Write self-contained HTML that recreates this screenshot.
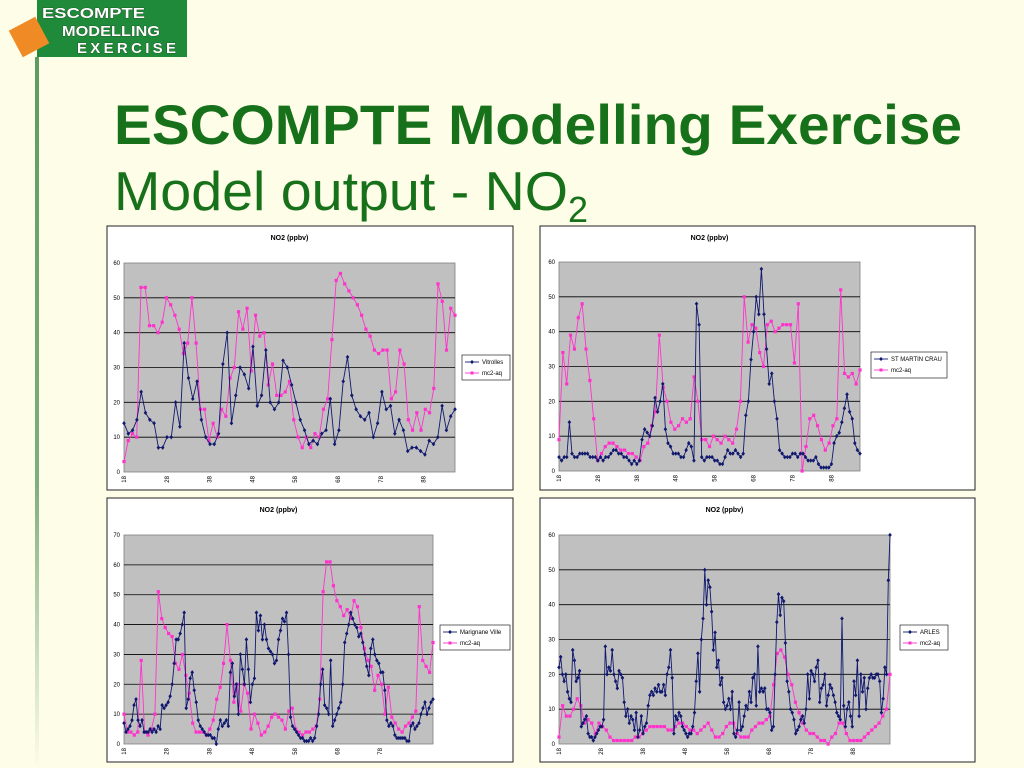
<!DOCTYPE html>
<html><head><meta charset="utf-8">
<style>
html,body{margin:0;padding:0;background:#fefde8;}
#page{position:relative;width:1024px;height:768px;overflow:hidden;background:#fefde8;font-family:"Liberation Sans",sans-serif;}
svg text{font-family:"Liberation Sans",sans-serif;}
</style></head>
<body>
<div id="page">
<svg id="s" width="1024" height="768" viewBox="0 0 1024 768">
<defs>
<linearGradient id="vl" x1="0" y1="0" x2="0" y2="1">
<stop offset="0" stop-color="#5f9a5f"/><stop offset="0.6" stop-color="#7fae7f"/><stop offset="1" stop-color="#fefde8"/>
</linearGradient>
</defs>
<rect x="35" y="57" width="4" height="711" fill="url(#vl)"/>
<g>
<rect x="37" y="0" width="150" height="57" fill="#1f8a3a"/>
<rect x="14" y="22" width="30" height="30" fill="#f08a24" transform="rotate(-28 29 37)"/>
<g font-weight="bold" font-size="15" fill="#fff" style="paint-order:stroke" stroke="#1a3a1a" stroke-width="0.6">
<text x="42" y="18" textLength="103" lengthAdjust="spacingAndGlyphs">ESCOMPTE</text>
<text x="62" y="36" textLength="98" lengthAdjust="spacingAndGlyphs">MODELLING</text>
<text x="77" y="53" textLength="99" lengthAdjust="spacing">EXERCISE</text>
</g>
</g>
<text x="114" y="144" font-size="56" font-weight="bold" fill="#17711a" textLength="848" lengthAdjust="spacingAndGlyphs">ESCOMPTE Modelling Exercise</text>
<text x="114" y="210" font-size="55" fill="#17711a"><tspan textLength="454" lengthAdjust="spacingAndGlyphs">Model output - NO</tspan><tspan font-size="36" dy="12">2</tspan></text>
<g id="charts"></g>
</svg>
</div>
<script>
// Chart 1 - Vitrolles
const c1Blue=[14,11,12,15,23,17,15,14,7,7,10,10,20,13,37,27,21,26,15,10,8,8,11,31,40,14,22,30,28,24,36,19,22,35,20,18,20,32,30,25,20,15,12,8,9,8,11,12,21,8,12,26,33,22,18,16,15,17,10,14,23,18,19,11,15,12,6,7,7,6,5,9,8,10,19,12,16,18];
const c1Pink=[3,9,11,10,53,53,42,42,40,43,50,48,45,41,34,37,50,37,18,18,9,14,10,18,16,27,30,46,41,47,29,45,39,40,25,31,22,22,23,26,15,10,7,10,7,11,10,18,21,38,55,57,54,52,50,48,45,41,39,35,34,35,35,21,23,35,31,15,12,17,12,18,17,24,54,49,35,47,45];
// Chart 2 - St Martin Crau
const c2Blue=[4,3,4,4,14,5,4,4,5,5,5,5,4,4,4,3,4,3,4,4,5,6,6,5,5,4,4,3,2,3,2,3,9,12,11,10,13,21,17,20,25,12,8,7,5,5,5,4,4,6,8,7,3,48,42,4,3,4,4,4,3,3,2,2,4,6,5,5,6,5,4,5,16,20,32,40,50,45,58,45,35,25,28,20,15,6,5,4,4,4,5,5,4,5,5,4,3,3,3,4,2,1,1,1,1,2,8,10,11,14,18,22,17,15,8,6,5];
const c2Pink=[9,34,25,39,35,44,48,35,26,15,3,5,7,8,8,7,6,6,5,5,4,3,7,8,13,17,39,24,20,14,12,13,15,14,15,27,20,9,9,7,10,9,8,10,9,8,12,20,50,37,42,41,34,30,42,43,40,41,42,42,42,31,48,0,7,15,16,13,9,6,8,13,15,52,28,27,28,25,29];
// Chart 3 - Marignane Ville
const c3Blue=[7,4,5,6,8,13,15,8,6,8,4,4,4,5,4,5,4,6,5,13,12,13,14,16,20,27,35,35,37,40,44,12,15,22,24,18,14,8,6,5,4,3,3,3,2,2,0,5,8,6,7,8,6,24,27,16,20,10,30,25,20,35,25,14,20,22,44,38,43,35,40,35,32,31,30,27,28,35,38,42,41,44,30,9,6,5,4,3,2,2,1,1,1,2,1,2,6,10,20,25,13,12,10,28,6,8,10,12,14,20,34,37,40,44,42,40,39,36,37,34,30,26,23,32,35,30,28,27,24,24,18,8,6,7,6,3,2,2,2,2,2,1,1,6,7,5,6,7,10,12,14,10,12,14,15];
const c3Pink=[10,4,4,3,4,28,4,3,5,10,51,42,39,37,36,27,25,30,23,17,7,4,4,4,3,5,8,15,19,27,40,28,14,20,11,20,17,5,10,7,3,4,6,9,10,9,8,5,11,12,5,4,3,4,4,5,6,15,51,61,61,53,48,46,43,45,42,48,46,39,32,28,26,18,23,20,10,19,9,7,5,4,6,7,9,11,46,28,26,24,34];
// Chart 4 - Arles
const c4Blue=[22,25,20,18,20,15,13,12,27,24,18,19,21,5,6,7,8,3,2,2,1,2,3,4,5,5,7,28,20,22,21,27,20,18,16,21,20,19,12,8,10,6,8,7,4,9,2,4,8,3,5,6,11,14,15,14,16,15,17,15,15,17,14,20,22,27,19,3,8,7,9,8,5,4,3,2,3,3,5,9,18,26,15,30,36,50,40,47,45,38,27,32,22,24,17,19,12,10,11,13,10,15,3,2,4,12,4,5,8,11,10,15,12,19,20,11,28,15,16,15,16,10,10,9,4,5,20,35,43,37,42,41,29,18,15,10,9,7,3,4,5,7,8,6,10,20,13,21,20,18,22,24,12,16,17,20,11,14,17,16,14,12,9,8,7,36,11,5,10,12,8,5,18,14,24,8,20,15,19,10,16,19,20,19,19,20,20,18,9,13,22,20,47,60];
const c4Pink=[2,11,8,8,10,13,11,6,7,6,3,6,5,4,2,1,1,1,1,1,1,2,2,3,4,5,5,5,5,5,4,4,5,6,6,5,4,4,3,4,5,6,4,2,2,3,5,6,6,3,2,2,2,4,5,6,6,7,8,17,26,27,25,20,17,12,9,6,4,3,3,2,1,1,0,2,3,6,6,3,1,1,1,1,2,3,4,5,6,8,10,20];
const xTicks1=["18","28","38","48","58","68","78","88"];
const xTicks3=["18","28","38","48","58","68","78"];
const stationNames=["Vitrolles","ST MARTIN CRAU","Marignane Ville","ARLES"];
const modelName="mc2-aq";

const NS="http://www.w3.org/2000/svg";
const root=document.getElementById('charts');
function mk(tag,attrs,parent){const e=document.createElementNS(NS,tag);for(const k in attrs)e.setAttribute(k,attrs[k]);(parent||root).appendChild(e);return e;}

const layouts=[
 {box:[107,226,406,264],plot:[124,263,331,209],ymax:60,ticks:xTicks1,tickStep:42.8,leg:[462,355,48,25],blue:c1Blue,pink:c1Pink,name:stationNames[0]},
 {box:[540,226,435,264],plot:[559,262,301,209],ymax:60,ticks:xTicks1,tickStep:38.9,leg:[871,352,76,26],blue:c2Blue,pink:c2Pink,name:stationNames[1]},
 {box:[107,498,406,264],plot:[124,535,309,209],ymax:70,ticks:xTicks3,tickStep:42.7,leg:[440,625,70,25],blue:c3Blue,pink:c3Pink,name:stationNames[2]},
 {box:[540,498,435,264],plot:[559,535,331,209],ymax:60,ticks:xTicks1,tickStep:42,leg:[900,625,48,25],blue:c4Blue,pink:c4Pink,name:stationNames[3]}
];

layouts.forEach((L,ci)=>{
 const g=mk('g',{});
 
 
 const [bx,by,bw,bh]=L.box,[px,py,pw,ph]=L.plot;
 const bg=mk('rect',{x:bx,y:by,width:bw,height:bh,fill:'#fff',stroke:'#222','stroke-width':1},g);
 
 
 const t=mk('text',{x:px+pw/2,y:by+14,'font-size':7,'font-weight':'bold','text-anchor':'middle',fill:'#000'},g);
 t.textContent='NO2 (ppbv)';
 
 
 const pa=mk('rect',{x:px,y:py,width:pw,height:ph,fill:'#c0c0c0',stroke:'#808080','stroke-width':0.8},g);
 
 
 const yS=v=>py+ph-v/L.ymax*ph;
 for(let v=0;v<=L.ymax;v+=10){
  const y=yS(v);
  if(v>0&&v<L.ymax){const gl=mk('line',{x1:px,x2:px+pw,y1:y,y2:y,stroke:'#000','stroke-width':0.8},g);
   
   }
  const tl=mk('text',{x:px-4,y:y+2,'font-size':6,'text-anchor':'end',fill:'#000'},g);
  tl.textContent=String(v);
  
  
 }
 L.ticks.forEach((lab,i)=>{
  const x=px+i*L.tickStep;
  const tx=mk('text',{x:0,y:0,'font-size':6,'text-anchor':'end',fill:'#000',transform:`translate(${x+2},${py+ph+4}) rotate(-90)`},g);
  tx.textContent=lab;
  
  
 });
 function series(vals,color,kind,nm){
  const sg=mk('g',{},g);
  
  
  const n=vals.length;
  const xS=i=>px+i*(pw/(n-1));
  const pts=vals.map((v,i)=>xS(i).toFixed(1)+','+yS(v).toFixed(1)).join(' ');
  const pl=mk('polyline',{points:pts,fill:'none',stroke:color,'stroke-width':0.9},sg);
  
  
  vals.forEach((v,i)=>{
   const x=xS(i),y=yS(v);
   let m;
   if(kind==='sq') m=mk('rect',{x:x-1.6,y:y-1.6,width:3.2,height:3.2,fill:color},sg);
   else m=mk('polygon',{points:`${x},${y-2.2} ${x+1.8},${y} ${x},${y+2.2} ${x-1.8},${y}`,fill:color},sg);
   
   
  });
 }
 series(L.pink,'#ff33cc','sq','model-series');
 series(L.blue,'#10186e','dia','observed-series');
 const [lx,ly,lw,lh]=L.leg;
 const lg=mk('g',{},g);
 
 
 mk('rect',{x:lx,y:ly,width:lw,height:lh,fill:'#fff',stroke:'#000','stroke-width':0.6},lg);
 [[L.name,'#10186e'],[modelName,'#ff33cc']].forEach((e,k)=>{
  const yy=ly+7+k*11;
  const en=mk('g',{},lg);
  
  
  mk('line',{x1:lx+3,x2:lx+17,y1:yy,y2:yy,stroke:e[1],'stroke-width':0.9},en);
  if(k===0) mk('polygon',{points:`${lx+10},${yy-2} ${lx+12},${yy} ${lx+10},${yy+2} ${lx+8},${yy}`,fill:e[1]},en);
  else mk('rect',{x:lx+8.5,y:yy-1.5,width:3,height:3,fill:e[1]},en);
  const lt=mk('text',{x:lx+20,y:yy+2,'font-size':6,fill:'#000'},en);
  lt.textContent=e[0];
 });
});
</script>
</body></html>
